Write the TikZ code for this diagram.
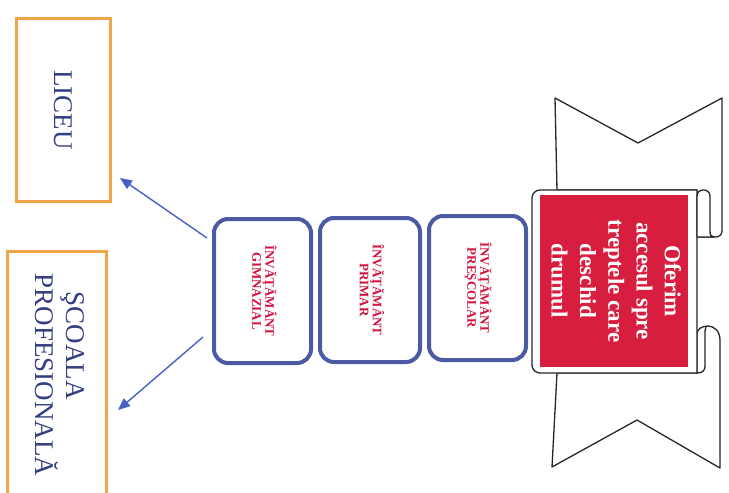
\documentclass[tikz,border=0pt]{standalone}
\usepackage{fontspec}
\setmainfont{Liberation Serif}
\usetikzlibrary{arrows.meta,calc}
\definecolor{orangeb}{RGB}{240,165,75}
\definecolor{navytext}{RGB}{52,62,130}
\definecolor{blueboxc}{RGB}{76,90,164}
\definecolor{redtext}{RGB}{210,18,60}
\definecolor{arrowblue}{RGB}{72,96,196}
\definecolor{bannerred}{RGB}{216,30,62}
\begin{document}
\begin{tikzpicture}[x=1pt,y=-1pt,
  orangebox/.style={draw=orangeb, line width=3pt, inner sep=0pt, text=navytext,
    font=\fontsize{27}{30}\selectfont},
  bluebox/.style={draw=blueboxc, line width=4pt, rounded corners=14pt,
    minimum width=97pt, minimum height=144pt, inner sep=0pt, fill=white,
    text=redtext, font=\fontsize{13}{13}\bfseries},
  arr/.style={draw=arrowblue, line width=1.4pt, -{Triangle[length=12pt,width=10pt]}},
  scroll/.style={draw=black!85, line width=1.3pt, fill=white, line join=round},
  banner/.style={fill=bannerred, minimum width=148pt, minimum height=172pt,
    inner sep=0pt, text=white, font=\fontsize{23}{28.3}\bfseries}
]
\useasboundingbox (0,0) rectangle (729,493);
\fill[white] (0,0) rectangle (729,493);

% targets
\node[orangebox, minimum width=94pt, minimum height=183pt] (liceu) at (63.5,110)
  {\rotatebox{-90}{LICEU}};
\node[orangebox, minimum width=99pt, minimum height=247pt] (scoala) at (57,375)
  {\rotatebox{-90}{\begin{tabular}{@{}l@{}}\hspace*{18pt}ŞCOALA\\PROFESIONALĂ\end{tabular}}};

% levels
\node[bluebox] (gim) at (262.5,291)
  {\rotatebox{-90}{\begin{tabular}{@{}c@{}}ÎNVĂŢĂMÂNT\\GIMNAZIAL\end{tabular}}};
\node[bluebox, minimum width=100pt] (prim) at (370,290)
  {\rotatebox{-90}{\begin{tabular}{@{}c@{}}ÎNVĂŢĂMÂNT\\PRIMAR\end{tabular}}};
\node[bluebox] (pres) at (477.5,288)
  {\rotatebox{-90}{\begin{tabular}{@{}c@{}}ÎNVĂŢĂMÂNT\\PREŞCOLAR\end{tabular}}};

% arrows
\coordinate (tl) at ([shift={(8,-25)}]liceu.south east);
\coordinate (ts) at ([shift={(10,35)}]scoala.east);
\draw[arr] ([shift={(-5,-53)}]gim.west) -- (tl);
\draw[arr] ([shift={(-9,46)}]gim.west) -- (ts);

% scroll: tails
\draw[scroll] (557,190) -- (555,98) -- (638,143) -- (722,98) -- (722,231)
  .. controls (722,235) and (719,237) .. (715,237) -- (697,237) -- (697,190) -- cycle;
\draw[scroll] (557,373) -- (552,467) -- (637,420) -- (720,468) -- (720,340)
  .. controls (720,331) and (714,326) .. (708,326)
  .. controls (702,326) and (697,329) .. (697,334) -- (697,373) -- cycle;
% scroll: panel
\draw[scroll] (697,190) -- (540,190) .. controls (535.6,190) and (532,193.6) .. (532,198)
  -- (532,365) .. controls (532,369.4) and (535.6,373) .. (540,373) -- (697,373) -- cycle;
% curls
\draw[scroll] (697,237) -- (697,196) .. controls (697,188) and (710,188) .. (710,196)
  -- (710,231) .. controls (710,235) and (711,237) .. (714,237) -- cycle;
\draw[scroll, fill=none] (706,327) .. controls (705,330) .. (705,336) -- (705,366)
  .. controls (705,371) and (702,373) .. (697,373);

\node[banner] (ban) at (614,281)
  {\rotatebox{-90}{\begin{tabular}{@{}c@{}}Oferim\\accesul spre\\treptele care\\deschid\\drumul\end{tabular}}};
\end{tikzpicture}
\end{document}
